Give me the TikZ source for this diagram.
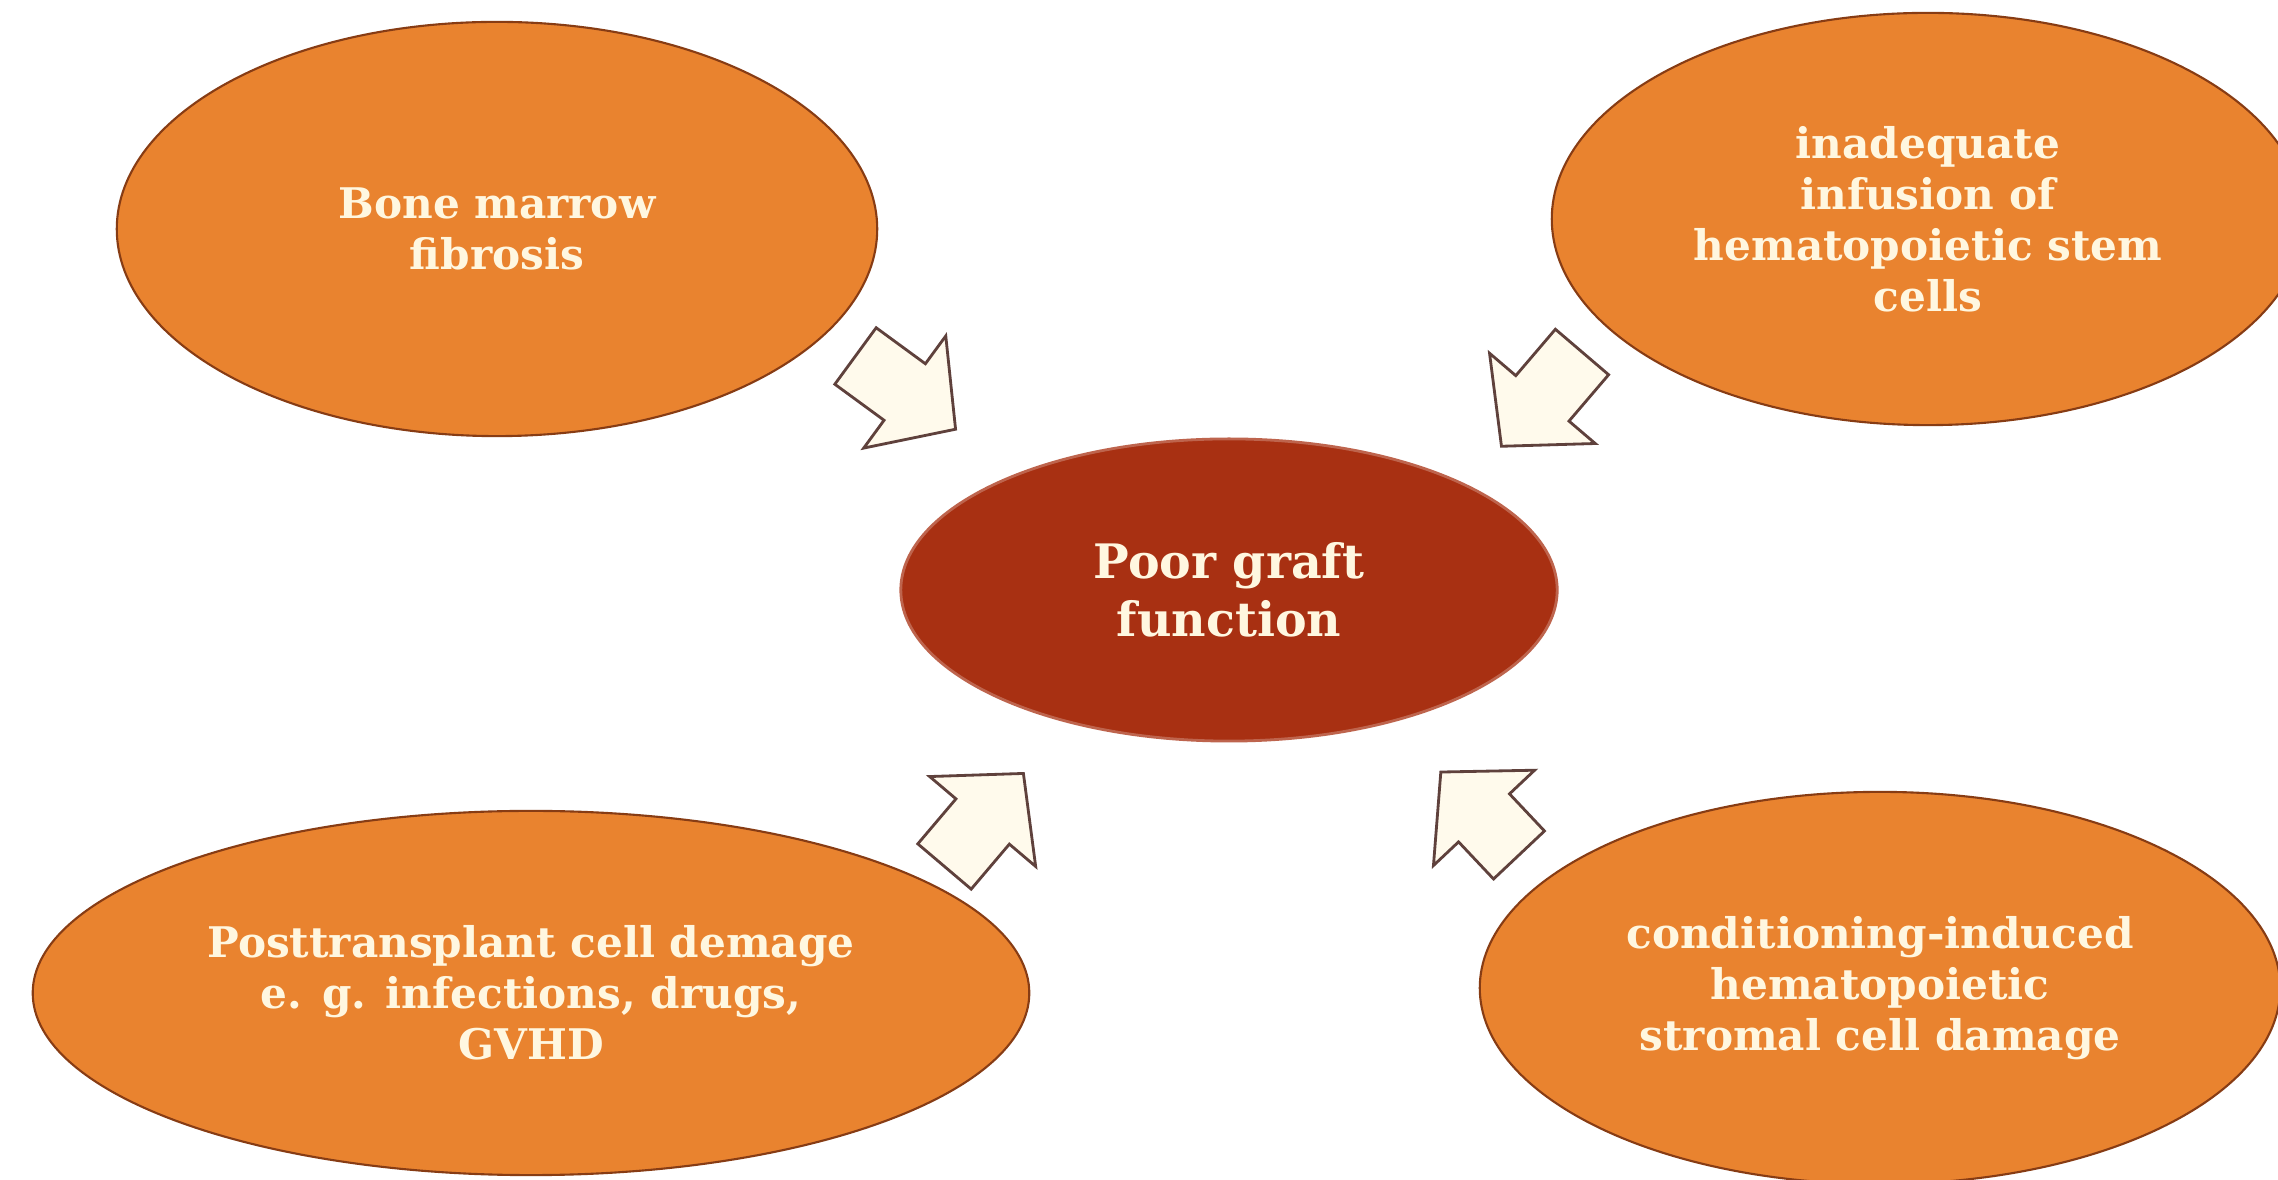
\documentclass[tikz,border=0pt]{standalone}
\usepackage{fontspec}
\setmainfont{DejaVu Serif}
\usetikzlibrary{shapes.geometric}
\definecolor{orangefill}{RGB}{233,131,47}
\definecolor{orangeline}{RGB}{135,60,20}
\definecolor{redfill}{RGB}{168,48,18}
\definecolor{txtcol}{RGB}{255,247,224}
\definecolor{arrfill}{RGB}{255,250,236}
\definecolor{arrline}{RGB}{95,65,60}
\tikzset{
  cause/.style={ellipse, draw=orangeline, line width=0.6pt, fill=orangefill,
    text=txtcol, font=\bfseries\fontsize{12}{14.5}\selectfont, align=center, inner sep=0pt},
  core/.style={ellipse, draw=redfill!75!white, line width=0.8pt, fill=redfill,
    text=txtcol, font=\bfseries\fontsize{13.5}{16.5}\selectfont, align=center, inner sep=0pt},
  blockarrow/.style={draw=arrline, fill=arrfill, line width=0.8pt, line join=miter},
  pics/blockarr/.style={code={
    \draw[blockarrow] (0,35) -- ({#1-63},35) -- ({#1-63},69.5) -- (#1,0)
      -- ({#1-63},-69.5) -- ({#1-63},-35) -- (0,-35) -- cycle;}}
}
\begin{document}
\begin{tikzpicture}[x=0.01cm,y=-0.01cm]
\useasboundingbox (0,0) rectangle (2278,1180);
\clip (0,0) rectangle (2278,1180);
\fill[white] (0,0) rectangle (2278,1180);

\node[cause, minimum width=7.6cm, minimum height=4.14cm] (marrow) at (497,229) {Bone marrow\\fibrosis};
\node[cause, minimum width=7.52cm, minimum height=4.12cm] (infusion) at (1928,219) {inadequate\\infusion of\\hematopoietic stem\\cells};
\node[cause, minimum width=9.96cm, minimum height=3.64cm] (posttx) at (531,993) {Posttransplant cell demage\\e. g. infections, drugs,\\GVHD};
\node[cause, minimum width=8.0cm, minimum height=3.92cm] (stromal) at (1880,988) {conditioning-induced\\hematopoietic\\stromal cell damage};
\node[core, minimum width=6.56cm, minimum height=3.02cm] (graft) at (1229,590) {Poor graft\\function};

\coordinate (tlA) at (855.5,356);
\coordinate (trA) at (1582,352);
\coordinate (blA) at (944.5,866.5);
\coordinate (brA) at (1519,855);

\pic[rotate=-36.2] at (tlA) {blockarr=124};
\pic[rotate=-130.5] at (trA) {blockarr=124};
\pic[rotate=49.7] at (blA) {blockarr=122};
\pic[rotate=133.3] at (brA) {blockarr=114};
\end{tikzpicture}
\end{document}
